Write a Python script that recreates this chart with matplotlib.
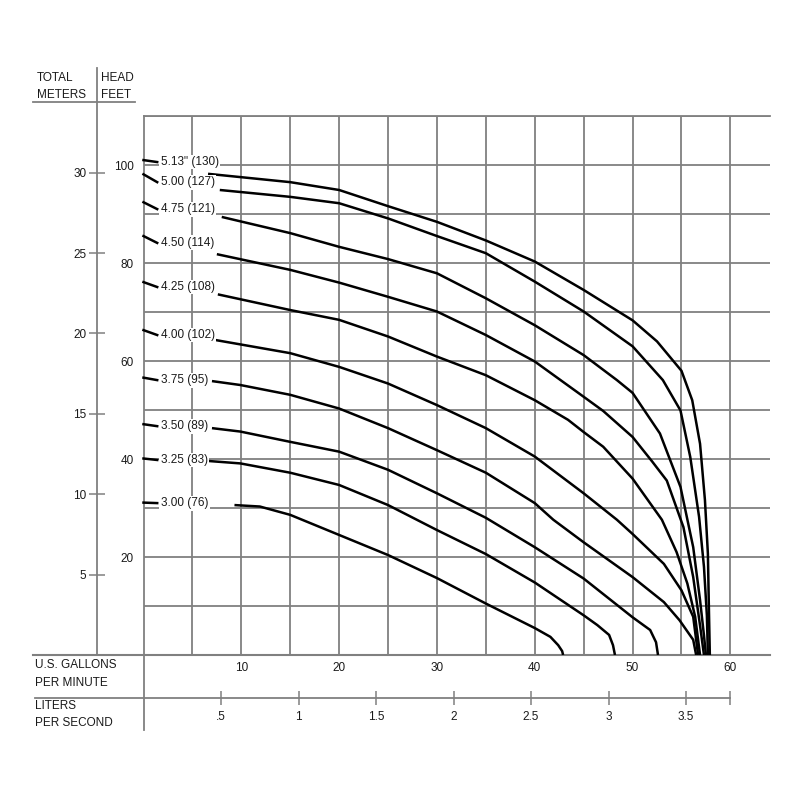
import matplotlib
matplotlib.use("Agg")
import matplotlib.pyplot as plt
import numpy as np

plt.rcParams['font.family'] = ['Liberation Sans', 'DejaVu Sans']

# impeller trims, label text and curves (GPM, head in feet)
trim_labels = ['5.13" (130)', '5.00 (127)', '4.75 (121)', '4.50 (114)', '4.25 (108)',
               '4.00 (102)', '3.75 (95)', '3.50 (89)', '3.25 (83)', '3.00 (76)']

gpm_513 = [6.6, 15, 20, 25, 30, 35, 40, 45, 50, 52.5, 55, 56.1, 56.9, 57.4, 57.7, 57.8, 57.9]
ft_513 = [98.2, 96.5, 94.9, 91.6, 88.4, 84.6, 80.3, 74.5, 68.3, 64.0, 58.0, 52.0, 43.1, 31.6, 20.7, 10.0, 0]

gpm_500 = [7.8, 15, 20, 25, 30, 35, 40, 45, 50, 53.1, 54.9, 55.9, 56.8, 57.3, 57.6, 57.7]
ft_500 = [94.9, 93.5, 92.2, 89.1, 85.5, 82.0, 76.2, 70.1, 63.0, 56.1, 49.9, 40.4, 28.2, 18.0, 8.0, 0]

gpm_475 = [8.0, 15, 20, 25, 30, 35, 40, 45, 48.4, 50, 52.8, 54.9, 56.2, 56.9, 57.3, 57.5]
ft_475 = [89.4, 86.1, 83.3, 80.8, 77.9, 72.8, 67.3, 61.2, 56.1, 53.5, 45.2, 34.3, 22.0, 11.2, 4.0, 0]

gpm_450 = [7.5, 15, 20, 25, 30, 35, 40, 45, 47, 50, 52, 53.5, 55.2, 56.2, 56.9, 57.3]
ft_450 = [81.8, 78.6, 76.0, 73.1, 70.1, 65.3, 59.9, 52.7, 49.8, 44.5, 39.5, 35.6, 26.1, 15.9, 6.0, 0]

gpm_425 = [7.6, 15, 20, 25, 30, 35, 40, 43.4, 45, 47, 50, 53.0, 54.5, 55.6, 56.4, 56.9]
ft_425 = [73.6, 70.4, 68.4, 65.0, 60.9, 57.1, 52.0, 48.0, 45.5, 42.5, 36.0, 27.6, 21.0, 14.6, 7.8, 0]

gpm_400 = [7.3, 15, 20, 25, 30, 35, 40, 45, 48.4, 50, 53.2, 55.0, 56.2, 56.7]
ft_400 = [64.3, 61.6, 58.8, 55.4, 51.0, 46.3, 40.5, 33.0, 27.6, 24.7, 18.6, 13.2, 7.8, 0]

gpm_375 = [7.0, 9.9, 15, 20, 25, 30, 35, 40, 41.9, 45, 50, 53.2, 54.8, 56.2, 56.5]
ft_375 = [55.9, 55.1, 53.1, 50.3, 46.3, 41.8, 37.2, 31.0, 27.6, 23.0, 15.9, 10.8, 7.1, 3.1, 0]

gpm_350 = [7.0, 9.9, 15, 20, 25, 30, 35, 40, 45, 50, 51.8, 52.4, 52.6]
ft_350 = [46.3, 45.6, 43.5, 41.5, 37.8, 33.0, 28.0, 22.0, 15.6, 7.7, 5.1, 2.6, 0]

gpm_325 = [6.6, 9.9, 15, 20, 25, 30, 35, 40, 45, 46.4, 47.6, 48.0, 48.2]
ft_325 = [39.6, 39.1, 37.2, 34.7, 30.6, 25.5, 20.6, 14.8, 8.1, 6.1, 4.1, 2.0, 0]

gpm_300 = [9.3, 11.9, 15, 20, 25, 30, 35, 38, 40, 41.6, 42.4, 42.8, 42.9]
ft_300 = [30.6, 30.3, 28.6, 24.5, 20.4, 15.7, 10.5, 7.5, 5.5, 3.7, 2.0, 0.8, 0]

curves = [(gpm_513, ft_513), (gpm_500, ft_500), (gpm_475, ft_475), (gpm_450, ft_450),
          (gpm_425, ft_425), (gpm_400, ft_400), (gpm_375, ft_375), (gpm_350, ft_350),
          (gpm_325, ft_325), (gpm_300, ft_300)]

# where each trim label sits (head, ft) and where its leader meets the left edge
label_ft = [100.6, 96.5, 91.0, 84.1, 75.1, 65.3, 56.1, 46.7, 39.8, 31.0]
leader_ft0 = [101.0, 98.1, 92.4, 85.5, 76.1, 66.3, 56.6, 47.1, 40.1, 31.1]

gpm_ticks = [10, 20, 30, 40, 50, 60]
feet_ticks = [20, 40, 60, 80, 100]
meter_ticks = [5, 10, 15, 20, 25, 30]
lps_ticks = [0.5, 1, 1.5, 2, 2.5, 3, 3.5]
lps_labels = ['.5', '1', '1.5', '2', '2.5', '3', '3.5']

GPM_TO_LPS = 0.0630902
FT_TO_M = 0.3048

grid_c = '#808080'
ink = '#1a1a1a'
fs = 8.5

fig = plt.figure(figsize=(8, 8), dpi=100)
ax = fig.add_axes([143.5 / 800, 1 - 655 / 800, 626 / 800, 539 / 800])
ax.set_xlim(0, 64)
ax.set_ylim(0, 110)

# grid
ax.set_xticks(gpm_ticks)
ax.set_xticks(np.arange(5, 60, 10), minor=True)
ax.set_yticks(np.arange(0, 111, 10))
ax.set_yticklabels([str(v) if v in feet_ticks else '' for v in np.arange(0, 111, 10)])
ax.grid(True, which='both', color=grid_c, lw=1.3, zorder=0)
ax.set_axisbelow(True)
ax.tick_params(which='both', length=0, labelsize=fs, colors=ink)
ax.tick_params(axis='x', pad=5)
ax.tick_params(axis='y', pad=7)
for s in ['right', 'bottom']:
    ax.spines[s].set_visible(False)
for s in ['top', 'left']:
    ax.spines[s].set_color(grid_c)
    ax.spines[s].set_linewidth(1.3)

# pump curves
for (g, h) in curves:
    ax.plot(g, h, color='black', lw=1.8, solid_capstyle='butt',
            solid_joinstyle='round', zorder=3)

# trim labels with leaders
for txt, ly, l0 in zip(trim_labels, label_ft, leader_ft0):
    ax.plot([0, 1.4], [l0, ly], color='black', lw=1.8, zorder=3, clip_on=False)
    ax.text(1.75, ly, txt, fontsize=fs, color=ink, ha='left', va='center', zorder=4,
            bbox=dict(boxstyle='square,pad=0.12', fc='white', ec='none'))

# meters scale
m_loc = (97 - 143.5) / 626
sec_y = ax.secondary_yaxis(m_loc, functions=(lambda f: f * FT_TO_M, lambda m: m / FT_TO_M))
sec_y.set_yticks(meter_ticks)
sec_y.tick_params(direction='inout', length=11, width=1.1, color=grid_c, pad=2,
                  labelsize=fs, labelcolor=ink)
sec_y.spines['left'].set_visible(False)
ax.plot([m_loc, m_loc], [0, (655 - 68) / 539], transform=ax.transAxes,
        color=grid_c, lw=1.3, clip_on=False)

# liters per second scale
l_loc = -(698 - 655) / 539
sec_x = ax.secondary_xaxis(l_loc, functions=(lambda g: g * GPM_TO_LPS, lambda l: l / GPM_TO_LPS))
sec_x.set_xticks(lps_ticks + [60 * GPM_TO_LPS])
sec_x.set_xticklabels(lps_labels + [''])
sec_x.tick_params(direction='inout', length=10, width=1.1, color=grid_c, pad=4,
                  labelsize=fs, labelcolor=ink)
sec_x.spines['bottom'].set_visible(False)
ax.plot([-11.1, 60], [l_loc, l_loc], transform=ax.get_xaxis_transform(),
        color=grid_c, lw=1.3, clip_on=False)

# frame lines outside the grid
ax.plot([(33 - 143.5) / 626, 1], [0, 0], transform=ax.transAxes,
        color=grid_c, lw=1.5, clip_on=False)
ax.plot([0, 0], [0, -(730 - 655) / 539], transform=ax.transAxes,
        color=grid_c, lw=1.3, clip_on=False)
ax.plot([(33 - 143.5) / 626, (135 - 143.5) / 626], [(655 - 102) / 539] * 2,
        transform=ax.transAxes, color=grid_c, lw=1.3, clip_on=False)

# header and axis titles
for x, y, s in [(37, 78, 'TOTAL'), (37, 95, 'METERS'), (101, 78, 'HEAD'), (101, 95, 'FEET'),
                (35, 665, 'U.S. GALLONS'), (35, 683, 'PER MINUTE'),
                (35, 706, 'LITERS'), (35, 723, 'PER SECOND')]:
    fig.text(x / 800, 1 - y / 800, s, fontsize=fs, color=ink, ha='left', va='center')

fig.savefig('out.png', dpi=100)
